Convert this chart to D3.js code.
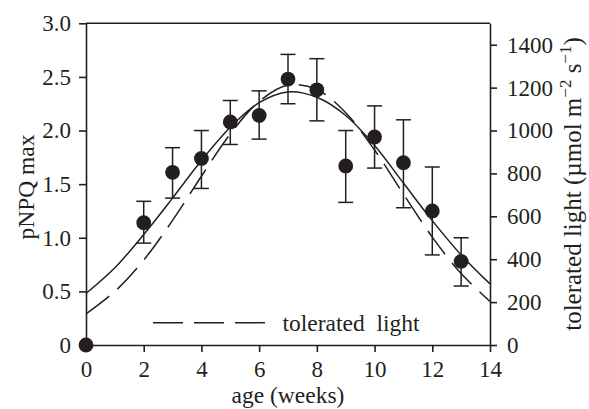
<!DOCTYPE html>
<html><head><meta charset="utf-8">
<script src="https://cdn.jsdelivr.net/npm/d3@7"></script>
</head>
<body style="margin:0"><svg id="c" width="589" height="409" font-family="Liberation Serif"></svg>
<script>
// data
const weeks = [0,2,3,4,5,6,7,8,9,10,11,12,13];
const pnpq  = [0,1.14,1.61,1.74,2.08,2.14,2.48,2.38,1.67,1.94,1.70,1.25,0.78];
const errLo = [0,0.95,1.37,1.46,1.87,1.92,2.25,2.09,1.33,1.65,1.28,0.84,0.55];
const errHi = [0,1.34,1.84,2.00,2.28,2.37,2.71,2.67,2.00,2.23,2.10,1.66,1.00];
const curveWeeks = [0,1,2,3,4,5,6,7,8,9,10,11,12,13,14];
const pnpqFit = [0.48,0.72,1.03,1.37,1.72,2.03,2.26,2.36,2.31,2.14,1.86,1.51,1.16,0.84,0.57];
const lightFit = [145,250,396,581,787,984,1136,1211,1191,1083,909,704,503,333,203];
const xTicks = [0,2,4,6,8,10,12,14];
const yTicks = [0,0.5,1.0,1.5,2.0,2.5,3.0];
const y2Ticks = [0,200,400,600,800,1000,1200,1400];

const FONT = "Liberation Serif";
const svg = d3.select("#c");
const L=86, R=490, T=23.3, B=345;
const x = d3.scaleLinear().domain([0,14]).range([L,R]);
const y = d3.scaleLinear().domain([0,3]).range([B,T]);
const y2 = d3.scaleLinear().domain([0,1500]).range([B,T]);
const ink = "#231f20", fs = 23;

function styleAxis(g){
  g.attr("font-family",FONT).attr("font-size",fs);
  g.selectAll("path").attr("stroke",ink).attr("stroke-width",1.6);
  g.selectAll("line").attr("stroke",ink).attr("stroke-width",1.6);
  g.selectAll("text").attr("fill",ink).attr("font-family",FONT).attr("font-size",fs);
}
svg.append("g").attr("transform",`translate(0,${B})`)
  .call(d3.axisBottom(x).tickValues(xTicks).tickSize(7).tickSizeOuter(0).tickPadding(9).tickFormat(d3.format("d")))
  .call(styleAxis);
svg.append("g").attr("transform",`translate(${L},0)`)
  .call(d3.axisLeft(y).tickValues(yTicks).tickSize(7).tickSizeOuter(0).tickPadding(8).tickFormat(d=>d===0?"0":d3.format(".1f")(d)))
  .call(styleAxis);
svg.append("g").attr("transform",`translate(${R},0)`)
  .call(d3.axisRight(y2).tickValues(y2Ticks).tickSize(7).tickSizeOuter(0).tickPadding(10).tickFormat(d3.format("d")))
  .call(styleAxis);
svg.append("line").attr("x1",L).attr("x2",R).attr("y1",T).attr("y2",T).attr("stroke",ink).attr("stroke-width",1.6);

// curves
const solid = d3.line().x((d,i)=>x(curveWeeks[i])).y(d=>y(d)).curve(d3.curveCatmullRom);
svg.append("path").attr("d",solid(pnpqFit)).attr("fill","none").attr("stroke",ink).attr("stroke-width",1.5);
const dashed = d3.line().x((d,i)=>x(curveWeeks[i])).y(d=>y2(d)).curve(d3.curveCatmullRom);
svg.append("path").attr("d",dashed(lightFit)).attr("fill","none").attr("stroke",ink).attr("stroke-width",1.5).attr("stroke-dasharray","29,11");

// error bars
const eb = svg.append("g").attr("stroke",ink).attr("stroke-width",1.5);
weeks.forEach((w,i)=>{
  if(errHi[i]===errLo[i]) return;
  eb.append("line").attr("x1",x(w)).attr("x2",x(w)).attr("y1",y(errLo[i])).attr("y2",y(errHi[i]));
  [errLo[i],errHi[i]].forEach(v=>eb.append("line").attr("x1",x(w)-7.5).attr("x2",x(w)+7.5).attr("y1",y(v)).attr("y2",y(v)));
});
svg.append("g").selectAll("circle").data(pnpq).join("circle")
  .attr("cx",(d,i)=>x(weeks[i])).attr("cy",d=>y(d)).attr("r",7.4).attr("fill",ink);

function txt(sel,size){ return sel.attr("fill",ink).attr("font-family",FONT).attr("font-size",size||fs); }

// legend
svg.append("line").attr("x1",153).attr("x2",265).attr("y1",322.7).attr("y2",322.7)
  .attr("stroke",ink).attr("stroke-width",1.5).attr("stroke-dasharray","30,11");
txt(svg.append("text").attr("x",282.5).attr("y",330.5),23.5).attr("xml:space","preserve").text("tolerated  light");

// axis titles
txt(svg.append("text").attr("x",288).attr("y",402.5).attr("text-anchor","middle"),23.5).text("age (weeks)");
txt(svg.append("text").attr("transform","translate(34,187) rotate(-90)").attr("text-anchor","middle"),23.5).text("pNPQ max");
const t2 = txt(svg.append("text").attr("transform","translate(581,184) rotate(-90)").attr("text-anchor","middle"),25);
t2.append("tspan").text("tolerated light (µmol m");
t2.append("tspan").attr("font-size",17).attr("dy",-10).text("−2");
t2.append("tspan").attr("dy",10).text(" s");
t2.append("tspan").attr("font-size",17).attr("dy",-10).text("−1");
t2.append("tspan").attr("dy",10).text(")");
</script></body></html>
